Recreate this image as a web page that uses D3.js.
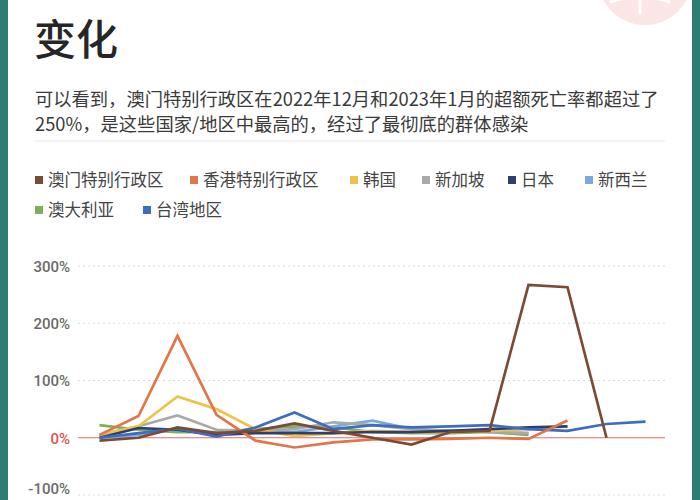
<!DOCTYPE html>
<html><head><meta charset="utf-8">
<script src="https://cdn.jsdelivr.net/npm/d3@7/dist/d3.min.js"></script>
<style>html,body{margin:0;padding:0;background:#fff;}svg{display:block;}</style>
</head><body>
<script>
const months = ["2022-01","2022-02","2022-03","2022-04","2022-05","2022-06","2022-07","2022-08","2022-09","2022-10","2022-11","2022-12","2023-01","2023-02","2023-03"];
const yTicks = [-100, 0, 100, 200, 300];
const seriesNames = ["澳门特别行政区","香港特别行政区","韩国","新加坡","日本","新西兰","澳大利亚","台湾地区"];
const seriesColors = ["#7b4a35","#e0764a","#efc24a","#a9a9a9","#2d3f6e","#7aa9db","#7db05a","#3d6cc0"];
const macau     = [-5, 0, 18, 8, 12, 25, 12, 0, -12, 10, 12, 267, 263, 0, null];
const hongkong  = [5, 38, 178, 40, -5, -17, -8, -3, -3, -2, 0, -2, 30, null, null];
const korea     = [5, 20, 72, 50, 15, 3, 8, 12, 10, 10, 12, 15, 20, null, null];
const singapore = [5, 20, 39, 14, 12, 15, 27, 22, 15, 12, 10, 8, null, null, null];
const japan     = [0, 17, 14, 5, 8, 8, 8, 10, 10, 12, 15, 18, 20, null, null];
const newzealand= [0, 5, 15, 8, 12, 10, 20, 30, 15, 12, 10, 8, null, null, null];
const australia = [22, 14, 10, 10, 15, 20, 18, 10, 8, 8, 10, 5, null, null, null];
const taiwan    = [0, 8, 16, 2, 18, 44, 15, 22, 18, 20, 22, 15, 12, 24, 28];
const seriesValues = [macau, hongkong, korea, singapore, japan, newzealand, australia, taiwan];
const titleText = "变化";
const descLines = ["可以看到，澳门特别行政区在2022年12月和2023年1月的超额死亡率都超过了","250%，是这些国家/地区中最高的，经过了最彻底的群体感染"];

const W = 700, H = 500;
const svg = d3.select("body").append("svg").attr("width", W).attr("height", H);
const CJK = "'Noto Sans CJK SC','Noto Sans',sans-serif";

// card background + teal borders
svg.append("rect").attr("x",0).attr("y",0).attr("width",W).attr("height",H).attr("fill","#fff");
svg.append("rect").attr("x",0).attr("y",0).attr("width",8).attr("height",H).attr("fill","#2f7d72");
svg.append("rect").attr("x",692).attr("y",0).attr("width",8).attr("height",H).attr("fill","#2f7d72");

// faint logo circle top-right
const logo = svg.append("g");
logo.append("circle").attr("cx",645).attr("cy",-22).attr("r",47).attr("fill","#fbe6e6");
logo.append("line").attr("x1",640).attr("y1",-20).attr("x2",640).attr("y2",14).attr("stroke","#fff").attr("stroke-width",3);
logo.append("path").attr("d","M610,2 Q640,-8 670,2").attr("fill","none").attr("stroke","#fff").attr("stroke-width",3);

// title
svg.append("text").attr("x",34).attr("y",55).text(titleText)
  .attr("font-family",CJK).attr("font-size",42).attr("font-weight",500).attr("fill","#262626");
descLines.forEach((t,i)=>{
  svg.append("text").attr("x",35).attr("y",106+i*25).text(t)
    .attr("font-family",CJK).attr("font-size",18.3).attr("fill","#3a3a3a");
});
svg.append("line").attr("x1",35).attr("x2",665).attr("y1",141).attr("y2",141).attr("stroke","#e6e6e6");

// legend
const legendPos = [[35,180],[190,180],[350,180],[422,180],[508,180],[585,180],[35,210],[143,210]];
seriesNames.forEach((n,i)=>{
  const [lx,ly] = legendPos[i];
  svg.append("rect").attr("x",lx).attr("y",ly-4).attr("width",8).attr("height",8).attr("fill",seriesColors[i]);
  svg.append("text").attr("x",lx+13).attr("y",ly+6).text(n)
    .attr("font-family",CJK).attr("font-size",16.5).attr("fill","#444");
});

// scales
const x = d3.scaleBand().domain(months).range([80, 665]);
const y = d3.scaleLinear().domain([-100, 300]).range([495, 266]);
const cx = d => x(d) + x.bandwidth()/2;

// y axis labels
const yAxis = d3.axisLeft(y).tickValues(yTicks).tickFormat(d => d + "%").tickSize(0).tickPadding(0);
const ga = svg.append("g").attr("transform","translate(70,0)").call(yAxis);
ga.select(".domain").remove();
ga.selectAll("text").attr("font-family","Roboto,'Noto Sans',sans-serif").attr("font-size",15)
  .attr("font-weight",500)
  .attr("fill", d => d === 0 ? "#d9534f" : "#6a6a6a").attr("dy", d => d === -100 ? "-0.1em" : "0.35em");
// gridlines
svg.append("g").selectAll("line").data(yTicks.filter(d=>d!==0)).join("line")
  .attr("x1",78).attr("x2",665).attr("y1",d=>y(d)).attr("y2",d=>y(d))
  .attr("stroke","#dcdcdc").attr("stroke-dasharray","2,3");
svg.append("line").attr("x1",78).attr("x2",665).attr("y1",y(0)).attr("y2",y(0))
  .attr("stroke","#e06a6a").attr("stroke-width",1.2);

// lines
const line = d3.line().defined(d => d.v !== null).x(d => cx(d.m)).y(d => y(d.v));
const drawOrder = [6,5,3,2,4,7,1,0];
drawOrder.forEach(i=>{
  const data = months.map((m,j)=>({m, v: seriesValues[i][j]}));
  svg.append("path").datum(data).attr("d", line).attr("fill","none")
    .attr("stroke", seriesColors[i]).attr("stroke-width",2.7).attr("stroke-linejoin","miter");
});
</script>
</body></html>
